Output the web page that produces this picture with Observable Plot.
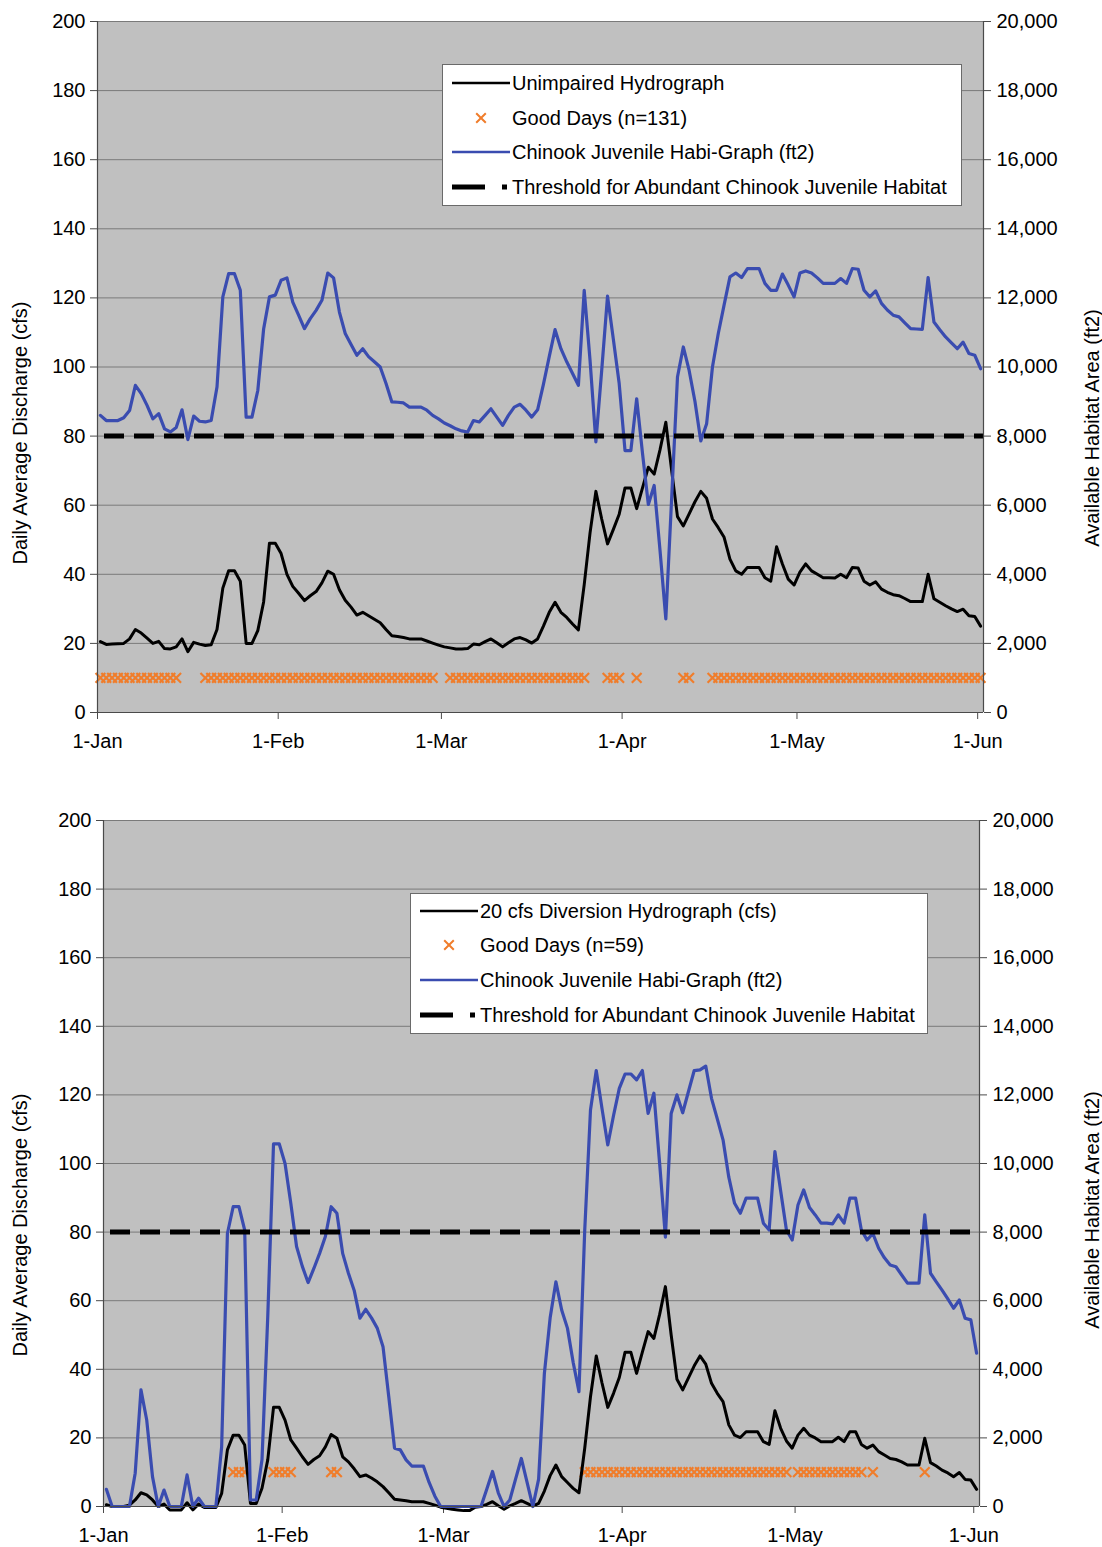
<!DOCTYPE html>
<html>
<head>
<meta charset="utf-8">
<script src="https://cdn.jsdelivr.net/npm/d3@7"></script>
<script src="https://cdn.jsdelivr.net/npm/@observablehq/plot@0.6"></script>
<style>
html, body { margin: 0; padding: 0; background: #fff; }
#wrap { position: relative; width: 1102px; height: 1547px; font-family: "Liberation Sans", Arial, sans-serif; }
#wrap svg { display: block; }
.panel { position: absolute; left: 0; }
#overlay { position: absolute; left: 0; top: 0; pointer-events: none; }
</style>
</head>
<body>
<div id="wrap"></div>
<script>
// ---------- data ----------
const monthTicks = [0, 31, 59, 90, 120, 151];
const monthLabels = ["1-Jan", "1-Feb", "1-Mar", "1-Apr", "1-May", "1-Jun"];
const dischargeTicks = [0, 20, 40, 60, 80, 100, 120, 140, 160, 180, 200];
const thresholdArea = 8000;     // ft2
const goodDayLevel = 10;        // cfs (marker row)

// Daily values, 1-Jan (index 0) to 1-Jun (index 151)
const unimpairedFlow = [
  20.5,19.7,19.8,19.9,20,21.3,24,23,21.5,20,
  20.6,18.5,18.4,19,21.3,17.6,20.3,19.8,19.4,19.6,
  24,36,41,41,38,20,20,23.7,32,49,
  49,46,40,36.5,34.5,32.4,33.8,35,37.5,40.9,
  40,35.5,32.5,30.5,28.2,29,28,27,26,24,
  22.2,22,21.7,21.3,21.3,21.3,20.7,20.1,19.5,19,
  18.7,18.4,18.4,18.5,19.8,19.6,20.5,21.3,20.2,19,
  20.2,21.3,21.7,21,20.1,21.3,25,29,31.9,29,
  27.5,25.6,23.9,37,52,64,56,48.8,53,57.4,
  65,65,59,65,71,69,76,84,70,56.7,
  54,57.5,61,64,62,56,53.5,50.7,44.4,41,
  40,42,42,42,39,38,48,43,38.6,36.9,
  40.6,43,41,40,39,39,38.9,40,39,42,
  41.8,38,36.9,37.8,35.7,34.8,34.1,33.8,33,32.1,
  32.1,32.1,40,32.9,31.9,30.9,30,29.2,29.9,28,
  27.8,25
];
const unimpairedHabitat = [
  8600,8450,8450,8450,8530,8740,9470,9230,8890,8500,
  8650,8210,8120,8250,8760,7900,8580,8430,8410,8450,
  9420,12030,12700,12700,12220,8550,8550,9320,11100,12030,
  12080,12510,12580,11880,11500,11110,11400,11640,11930,12720,
  12580,11590,10970,10650,10340,10530,10300,10150,10000,9520,
  8990,8980,8960,8840,8840,8840,8750,8600,8500,8380,
  8300,8210,8150,8120,8450,8410,8600,8790,8550,8310,
  8600,8840,8920,8750,8550,8760,9500,10300,11080,10530,
  10150,9810,9470,12220,10190,7830,9900,12050,10800,9520,
  7580,7580,9080,7500,6020,6570,4700,2710,6200,9710,
  10580,9900,9000,7860,8360,10000,10970,11800,12610,12720,
  12590,12850,12850,12850,12420,12220,12220,12690,12370,12030,
  12720,12780,12720,12580,12420,12420,12420,12560,12420,12850,
  12830,12220,12030,12200,11840,11650,11500,11450,11280,11110,
  11100,11090,12590,11300,11080,10870,10700,10530,10720,10390,
  10340,9950
];
const unimpairedGoodDays = [
  0,1,2,3,4,5,6,7,8,9,10,11,12,13,
  18,19,20,21,22,23,24,25,26,27,28,29,30,31,32,33,34,35,36,37,
  38,39,40,41,42,43,44,45,46,47,48,49,50,51,52,53,54,55,56,57,
  60,61,62,63,64,65,66,67,68,69,70,71,72,73,74,75,76,77,78,79,80,81,82,83,
  87,88,89,92,100,101,
  105,106,107,108,109,110,111,112,113,114,115,116,117,118,119,120,121,122,123,124,
  125,126,127,128,129,130,131,132,133,134,135,136,137,138,139,140,141,142,143,144,
  145,146,147,148,149,150,151
];

const diversionFlow = [
  0.5,0,0,0,0.4,1.9,4,3.4,1.9,0,
  0.7,-1,-1,-1,1.1,-1,0.7,-0.3,-0.3,-0.3,
  3.8,16.5,20.8,20.8,17.9,0.9,0.9,5.3,13.6,28.9,
  28.9,25.2,19.4,17,14.5,12.3,13.7,14.8,17.4,21,
  19.9,14.5,13,11,8.7,9.2,8.3,7.2,5.8,4,
  2.1,1.9,1.7,1.4,1.4,1.4,0.9,0.4,-0.2,-0.5,
  -0.8,-1,-1.2,-1.2,-0.2,0,0.6,1.4,0.2,-0.8,
  0.2,0.9,1.7,0.9,0.1,0.9,4.5,9,12.1,8.7,
  7,5.3,4,17,32,43.9,36,28.9,33,37.6,
  45,45,38.8,45,51,49,56,64.1,50,37.1,
  34,37.5,41,43.9,41.5,35.9,33,30.6,23.8,20.8,
  20.1,21.8,21.8,21.8,18.9,18.1,27.9,22.8,19.1,17,
  20.8,22.8,20.8,20,18.9,18.9,18.9,20.2,18.9,21.8,
  21.8,18.1,17,17.9,16,15,14,13.7,13,12.1,
  12.1,12.1,19.9,12.8,11.8,10.6,9.8,8.7,9.9,7.9,
  7.7,5
];
const diversionHabitat = [
  500,0,0,0,0,970,3400,2520,870,0,
  480,0,0,0,920,0,240,0,0,0,
  1740,7960,8740,8740,8060,190,190,1360,5530,10570,
  10570,10000,8840,7580,7000,6530,6940,7380,7870,8740,
  8550,7380,6800,6300,5490,5750,5500,5200,4660,3200,
  1700,1650,1360,1180,1180,1180,700,300,0,0,
  0,0,0,0,0,0,500,1020,400,0,
  190,800,1400,700,0,800,3880,5500,6550,5730,
  5200,4200,3350,8050,11560,12710,11600,10540,11400,12190,
  12610,12610,12440,12710,11460,12050,10000,7850,11460,12000,
  11480,12100,12710,12730,12840,11900,11300,10690,9600,8840,
  8550,8990,8990,8990,8260,8060,10350,9200,8060,7770,
  8790,9230,8720,8500,8260,8260,8240,8500,8260,8990,
  8990,8060,7770,7960,7530,7250,7040,6990,6750,6510,
  6510,6510,8500,6800,6550,6310,6050,5780,6020,5490,
  5440,4470
];
const diversionGoodDays = [
  22,23,24,29,30,31,32,39,40,
  83,84,85,86,87,88,89,90,91,92,93,94,95,96,97,98,99,100,101,102,
  103,104,105,106,107,108,109,110,111,112,113,114,115,116,117,118,
  120,121,122,123,124,125,126,127,128,129,130,131,
  133,142
];

const legendTop = ["Unimpaired Hydrograph", "Good Days (n=131)", "Chinook Juvenile Habi-Graph (ft2)", "Threshold for Abundant Chinook Juvenile Habitat"];
const legendBottom = ["20 cfs Diversion Hydrograph (cfs)", "Good Days (n=59)", "Chinook Juvenile Habi-Graph (ft2)", "Threshold for Abundant Chinook Juvenile Habitat"];
const leftTitle = "Daily Average Discharge (cfs)";
const rightTitle = "Available Habitat Area (ft2)";

// ---------- styling ----------
const W = 1102;
const FONT = '"Liberation Sans", Arial, sans-serif';
const BLUE = "#3a4cb0";
const ORANGE = "#f07d2b";
const AXIS = "#4a4a4a";
const GRID = "#7a7a7a";
const BG = "#c0c0c0";

function panel({flow, habitat, good, height, mt, mb, ml, mr}) {
  const rows = flow.map((q, i) => ({day: i, q, h: habitat[i]}));
  const goodRows = good.map(day => ({day}));
  const xc = d => d.day + 0.5;
  return Plot.plot({
    width: W, height,
    marginTop: mt, marginBottom: mb, marginLeft: ml, marginRight: mr,
    style: {fontFamily: FONT, fontSize: "20px", background: "transparent", color: "#000", overflow: "visible"},
    x: {domain: [0, 152]},
    y: {domain: [0, 200]},
    marks: [
      Plot.frame({fill: BG, stroke: "none"}),
      Plot.gridY(dischargeTicks.slice(1), {stroke: GRID, strokeOpacity: 1, strokeWidth: 1}),
      Plot.axisY(dischargeTicks, {anchor: "left", tickSize: 7, tickPadding: 5, label: null, stroke: AXIS}),
      Plot.axisY(dischargeTicks, {anchor: "right", tickSize: 7, tickPadding: 6, label: null, stroke: AXIS,
        tickFormat: d => d3.format(",")(d * 100)}),
      Plot.axisX(monthTicks, {anchor: "bottom", tickSize: 7, tickPadding: 14, label: null, stroke: AXIS,
        tickFormat: d => monthLabels[monthTicks.indexOf(d)]}),
      Plot.dot(goodRows, {x: xc, y: () => goodDayLevel, symbol: "times", r: 4.5, stroke: ORANGE, strokeWidth: 2.2}),
      Plot.line(rows, {x: xc, y: "q", stroke: "#000", strokeWidth: 3}),
      Plot.line(rows, {x: xc, y: d => d.h / 100, stroke: BLUE, strokeWidth: 3.2}),
      Plot.ruleY([thresholdArea / 100], {stroke: "#000", strokeWidth: 5, strokeDasharray: "20 10", strokeDashoffset: 23}),
      Plot.ruleX([0, 152], {stroke: AXIS, strokeWidth: 1.2}),
      Plot.ruleY([0], {stroke: AXIS, strokeWidth: 1.2})
    ]
  });
}

const wrap = document.getElementById("wrap");
const p1 = panel({flow: unimpairedFlow, habitat: unimpairedHabitat, good: unimpairedGoodDays,
  height: 760, mt: 21, mb: 48, ml: 97, mr: 119});
p1.classList.add("panel"); p1.style.top = "0px";
wrap.appendChild(p1);
const p2 = panel({flow: diversionFlow, habitat: diversionHabitat, good: diversionGoodDays,
  height: 787, mt: 60, mb: 41, ml: 103, mr: 123});
p2.classList.add("panel"); p2.style.top = "760px";
wrap.appendChild(p2);

// ---------- overlay: axis titles + legends ----------
const ov = d3.select(wrap).append("svg").attr("id", "overlay")
  .attr("width", W).attr("height", 1547)
  .style("font-family", FONT);

function vtitle(text, x, y) {
  ov.append("text").attr("transform", `translate(${x},${y}) rotate(-90)`)
    .attr("text-anchor", "middle").attr("dominant-baseline", "central")
    .attr("font-size", 20).attr("fill", "#000").text(text);
}
vtitle(leftTitle, 20, 433);
vtitle(leftTitle, 20, 1225);
vtitle(rightTitle, 1092, 428);
vtitle(rightTitle, 1092, 1210);

function legend(labels, x, y, w, h, rowY, textX, swL, swR) {
  const g = ov.append("g");
  g.append("rect").attr("x", x + 0.5).attr("y", y + 0.5).attr("width", w).attr("height", h)
    .attr("fill", "#fff").attr("stroke", "#6a6a6a").attr("stroke-width", 1);
  labels.forEach((t, i) => {
    g.append("text").attr("x", textX).attr("y", rowY[i]).attr("dominant-baseline", "central")
      .attr("font-size", 20).attr("fill", "#000").text(t);
  });
  g.append("line").attr("x1", swL).attr("x2", swR).attr("y1", rowY[0]).attr("y2", rowY[0])
    .attr("stroke", "#000").attr("stroke-width", 2.5);
  const cx = (swL + swR) / 2, cy = rowY[1], s = 4.8;
  g.append("path").attr("d", `M${cx - s},${cy - s}L${cx + s},${cy + s}M${cx - s},${cy + s}L${cx + s},${cy - s}`)
    .attr("stroke", ORANGE).attr("stroke-width", 2).attr("fill", "none");
  g.append("line").attr("x1", swL).attr("x2", swR).attr("y1", rowY[2]).attr("y2", rowY[2])
    .attr("stroke", BLUE).attr("stroke-width", 2.5);
  g.append("line").attr("x1", swL).attr("x2", swL + 33).attr("y1", rowY[3]).attr("y2", rowY[3])
    .attr("stroke", "#000").attr("stroke-width", 5);
  g.append("rect").attr("x", swR - 8).attr("y", rowY[3] - 2.5).attr("width", 5).attr("height", 5).attr("fill", "#000");
}
legend(legendTop, 442, 64, 519, 141, [83, 118, 152, 187], 512, 452, 510);
legend(legendBottom, 410, 893, 517, 140, [911, 945, 980, 1015], 480, 420, 478);
</script>
</body>
</html>
